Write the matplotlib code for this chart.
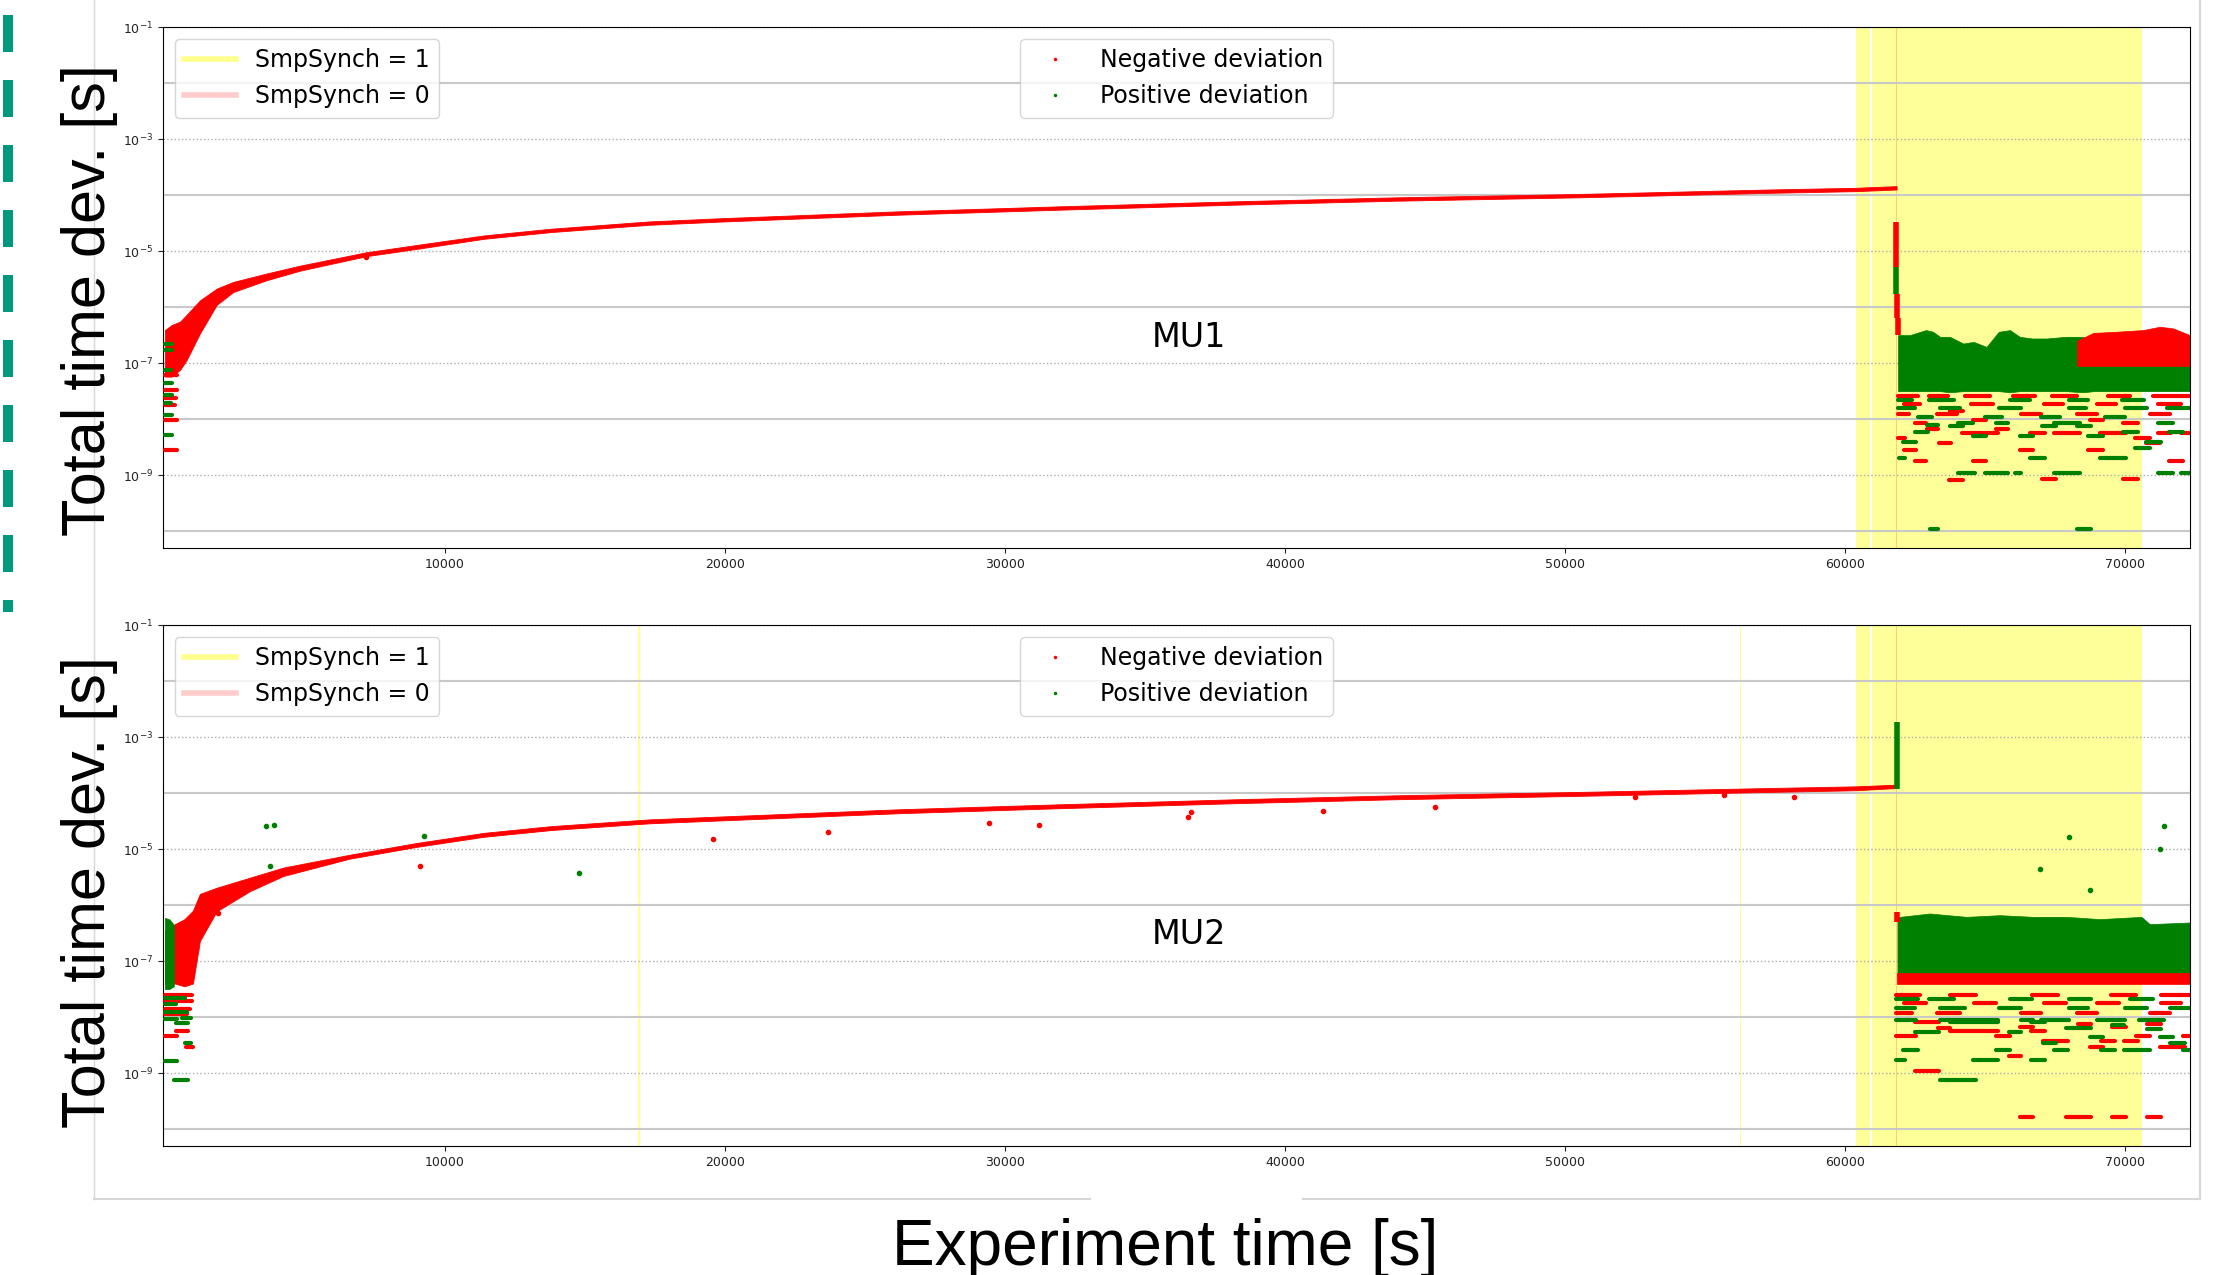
import numpy as np
import matplotlib.pyplot as plt
from matplotlib.lines import Line2D
from matplotlib.ticker import FixedLocator, NullFormatter, LogFormatterSciNotation

# all deviations below are log10 of the value in seconds, time in seconds

# ---------------- MU1 ----------------
mu1_curve_t = [0, 240, 540, 770, 1250, 1850, 2440, 3630, 4820, 7200, 9000, 11400, 13800,
               17300, 20000, 26200, 32000, 38300, 44000, 50500, 57300, 60400, 61850]
mu1_curve_hi = [-6.41, -6.32, -6.26, -6.14, -5.88, -5.67, -5.55, -5.40, -5.26, -5.02, -4.89, -4.72, -4.60,
                -4.47, -4.41, -4.29, -4.20, -4.11, -4.04, -3.98, -3.90, -3.87, -3.84]
mu1_curve_lo = [-7.24, -7.24, -7.12, -6.95, -6.47, -5.96, -5.73, -5.52, -5.35, -5.09, -4.96, -4.78, -4.66,
                -4.53, -4.47, -4.35, -4.26, -4.17, -4.10, -4.04, -3.96, -3.93, -3.90]

mu1_band_t = [61900, 62320, 62900, 63150, 63400, 63750, 64230, 64600, 65060, 65500, 65900, 66250,
              66700, 67200, 67900, 68500, 68900, 69600, 70300, 71500, 72330]
mu1_band_top = [-6.50, -6.50, -6.41, -6.44, -6.53, -6.53, -6.65, -6.62, -6.71, -6.44, -6.41, -6.53,
                -6.56, -6.56, -6.53, -6.53, -6.59, -6.65, -6.62, -6.62, -6.64]
mu1_band_bot = [-7.50, -7.50, -7.50, -7.50, -7.50, -7.52, -7.50, -7.50, -7.50, -7.50, -7.52, -7.50,
                -7.50, -7.50, -7.50, -7.52, -7.50, -7.50, -7.50, -7.50, -7.50]
mu1_redband_t = [68300, 68870, 69700, 70650, 71250, 71730, 72330]
mu1_redband_top = [-6.60, -6.46, -6.44, -6.41, -6.35, -6.38, -6.50]
mu1_redband_bot = [-7.05, -7.05, -7.05, -7.05, -7.05, -7.05, -7.05]

mu1_spike_t = [61820, 61840, 61860, 61900]
mu1_spike_top = [-4.48, -5.28, -5.76, -6.20]
mu1_spike_bot = [-5.28, -5.76, -6.20, -6.50]
mu1_spike_col = ['red', 'green', 'red', 'red']

mu1_red_out_t = [7200]
mu1_red_out_v = [-5.10]
mu1_green_out_t = []
mu1_green_out_v = []

mu1_red_seg = [
    (0, 420, -7.21), (0, 420, -7.48), (0, 400, -7.63), (0, 350, -7.75), (0, 420, -8.02), (0, 420, -8.55),
    (61900, 62600, -7.58), (63000, 63700, -7.58), (64300, 65200, -7.58), (66000, 66800, -7.58),
    (67400, 68300, -7.58), (69400, 70200, -7.58), (71000, 72322, -7.58),
    (62100, 62700, -7.73), (64500, 65300, -7.73), (67100, 67800, -7.73), (69000, 69700, -7.73),
    (71200, 72000, -7.73),
    (61900, 62300, -7.90), (63300, 64000, -7.90), (66300, 67000, -7.90), (68300, 69000, -7.90),
    (70900, 71600, -7.90),
    (61882, 62143, -8.33), (62119, 62560, -8.55), (62500, 62917, -8.74), (62500, 62917, -8.06),
    (62941, 63334, -8.17), (63370, 63810, -8.42), (63727, 64227, -9.08), (63750, 64227, -7.86),
    (64203, 64941, -8.24), (64584, 65060, -8.74), (64584, 65060, -8.02), (65000, 65477, -8.24),
    (65417, 65834, -8.18), (66250, 66727, -8.55), (66608, 67143, -8.24), (67060, 67560, -9.07),
    (67465, 68393, -8.24), (68691, 69227, -8.55), (68751, 69227, -8.02), (69132, 70060, -8.24),
    (69941, 70477, -8.06), (69941, 70477, -9.07), (70358, 70893, -8.33), (70774, 71250, -8.43),
    (71191, 71667, -8.24), (71584, 72084, -8.74), (72024, 72322, -8.24),
]
mu1_green_seg = [
    (0, 250, -6.65), (0, 250, -6.77), (0, 200, -7.12), (0, 250, -7.36), (0, 250, -7.57),
    (0, 200, -7.72), (0, 250, -7.93), (0, 250, -8.29),
    (61900, 62400, -7.65), (63000, 63900, -7.65), (65900, 66600, -7.65), (68000, 68700, -7.65),
    (69900, 70700, -7.65),
    (61900, 62500, -7.80), (63400, 64100, -7.80), (65500, 66300, -7.80), (68000, 68600, -7.80),
    (70000, 70800, -7.80), (71500, 72322, -7.80),
    (62600, 63100, -7.97), (65000, 65600, -7.97), (67000, 67700, -7.97), (69300, 70000, -7.97),
    (62084, 62560, -8.40), (61941, 62143, -8.69), (62500, 62977, -8.23), (62941, 63334, -8.11),
    (63036, 63334, -9.96), (63750, 64227, -8.12), (64060, 64643, -8.97), (64060, 64584, -8.06),
    (64584, 65060, -8.30), (65000, 65834, -8.97), (65417, 65834, -8.06), (66072, 66310, -8.97),
    (66250, 66727, -8.30), (66608, 67143, -8.69), (67060, 67560, -8.12), (67465, 68393, -8.97),
    (67465, 68393, -8.06), (68310, 68810, -8.12), (68310, 68810, -9.96), (68691, 69227, -8.30),
    (69132, 70060, -8.69), (69941, 70477, -8.23), (70358, 70893, -8.52), (70774, 71310, -8.40),
    (71191, 71727, -8.06), (71191, 71727, -8.97), (71584, 72084, -8.23), (72024, 72322, -8.97),
]
mu1_sync1 = [(60400, 60900), (60960, 70630)]
mu1_sync0 = [(61830, 61880)]

# ---------------- MU2 ----------------
mu2_curve_t = [0, 360, 700, 1000, 1250, 1850, 3040, 4230, 6610, 9000, 11400, 13800, 17300,
               26200, 32000, 38300, 44000, 50500, 57300, 60400, 61850]
mu2_curve_hi = [-6.45, -6.34, -6.25, -6.10, -5.80, -5.69, -5.51, -5.33, -5.10, -4.89, -4.71, -4.59, -4.47,
                -4.29, -4.20, -4.11, -4.04, -3.98, -3.91, -3.88, -3.85]
mu2_curve_lo = [-7.40, -7.40, -7.45, -7.40, -6.64, -6.11, -5.75, -5.48, -5.17, -4.96, -4.78, -4.66, -4.54,
                -4.36, -4.27, -4.18, -4.11, -4.05, -3.98, -3.95, -3.91]
mu2_startband_t = [0, 150, 320]
mu2_startband_top = [-6.23, -6.25, -6.35]
mu2_startband_bot = [-7.50, -7.50, -7.45]

mu2_band_t = [61880, 61964, 63035, 64345, 65536, 66726, 67917, 69107, 70595, 70893, 72330]
mu2_band_top = [-6.21, -6.21, -6.15, -6.21, -6.18, -6.21, -6.21, -6.25, -6.21, -6.34, -6.31]
mu2_band_bot = [-7.30, -7.30, -7.30, -7.30, -7.30, -7.30, -7.30, -7.30, -7.30, -7.30, -7.30]
mu2_redband_t = [61880, 72330]
mu2_redband_top = [-7.22, -7.22]
mu2_redband_bot = [-7.40, -7.40]

mu2_spike_t = [61870, 61880]
mu2_spike_top = [-2.74, -6.12]
mu2_spike_bot = [-3.92, -6.30]
mu2_spike_col = ['green', 'red']

mu2_red_out_t = [1900, 9110, 19560, 23680, 29430, 31210, 36530, 36640, 41360, 45360, 52500, 55680, 58200]
mu2_red_out_v = [-6.14, -5.31, -4.82, -4.70, -4.54, -4.57, -4.42, -4.34, -4.32, -4.24, -4.07, -4.04, -4.07]
mu2_green_out_t = [3600, 3900, 3770, 9240, 14800, 66960, 68010, 68750, 71250, 71390]
mu2_green_out_v = [-4.59, -4.57, -5.30, -4.76, -5.43, -5.36, -4.79, -5.73, -5.00, -4.59]

mu2_red_seg = [
    (0, 950, -7.60), (0, 950, -7.71), (0, 900, -7.85), (0, 800, -7.95), (0, 430, -8.33),
    (390, 820, -8.25), (750, 1000, -8.54),
    (61846, 62700, -7.60), (63750, 64700, -7.60), (66700, 67600, -7.60), (69500, 70400, -7.60),
    (71300, 72346, -7.60),
    (62100, 62900, -7.75), (64600, 65400, -7.75), (67100, 67900, -7.75), (69000, 69800, -7.75),
    (71300, 72000, -7.75),
    (61846, 62400, -7.92), (63300, 64100, -7.92), (66300, 67000, -7.92), (68300, 69000, -7.92),
    (70900, 71600, -7.92),
    (61846, 62560, -8.33), (62500, 63370, -8.96), (62500, 63370, -8.08), (63334, 63750, -8.19),
    (63750, 65477, -8.25), (65417, 65893, -8.33), (65869, 66310, -8.70), (66274, 66727, -8.18),
    (66667, 67143, -8.25), (66274, 66727, -9.79), (67084, 67977, -8.42), (67917, 68810, -9.79),
    (68336, 68810, -8.12), (68751, 69227, -8.54), (69167, 69643, -8.42), (69536, 70060, -8.18),
    (69536, 70060, -9.79), (69965, 70477, -8.42), (70417, 70893, -8.33), (70810, 71310, -8.12),
    (70810, 71310, -9.79), (71250, 72143, -8.54), (72084, 72346, -8.33),
]
mu2_green_seg = [
    (0, 700, -7.65), (0, 800, -7.90), (0, 400, -7.77), (0, 430, -8.04), (390, 820, -8.10),
    (710, 940, -8.46), (0, 430, -8.79), (340, 810, -9.13), (600, 940, -8.02),
    (61846, 62600, -7.67), (63000, 63900, -7.67), (65900, 66700, -7.67), (68000, 68800, -7.67),
    (70200, 71000, -7.67),
    (61846, 62500, -7.83), (63400, 64300, -7.83), (65500, 66300, -7.83), (68000, 68700, -7.83),
    (70000, 70800, -7.83), (71600, 72346, -7.83),
    (61846, 62560, -8.05), (63393, 65477, -8.05), (66310, 66727, -8.05), (67000, 68000, -8.05),
    (69000, 70000, -8.05), (70500, 71400, -8.05),
    (62084, 62619, -8.59), (61846, 62143, -8.77), (63393, 64679, -9.12), (62500, 63370, -8.27),
    (63750, 65477, -8.09), (64584, 65477, -8.77), (65417, 65893, -8.59), (65869, 66310, -8.27),
    (66667, 67143, -8.09), (66667, 67143, -8.77), (67084, 67560, -8.46), (67465, 67977, -8.59),
    (67917, 68810, -8.20), (68751, 69227, -8.36), (69167, 69643, -8.59), (69536, 69965, -8.14),
    (69965, 70893, -8.59), (70810, 71310, -8.21), (71250, 71727, -8.36), (71608, 72143, -8.46),
    (72084, 72346, -8.59),
]
mu2_sync1 = [(16900, 16960), (56250, 56300), (60400, 60900), (60960, 70630)]
mu2_sync0 = [(61840, 61880)]

xticks = [10000, 20000, 30000, 40000, 50000, 60000, 70000]


def p(v):
    return 10.0 ** np.asarray(v, dtype=float)


def draw_panel(ax, name, curve, startband, band, redband, spike, red_out, green_out,
               red_seg, green_seg, sync1, sync0):
    ax.set_yscale('log')
    ax.set_xlim(-70, 72330)
    ax.set_ylim(10 ** -10.3, 1e-1)
    ax.set_axisbelow(True)

    for a, b in sync1:
        ax.axvspan(a, b, color='yellow', alpha=0.4, lw=0, zorder=0.3)
    for a, b in sync0:
        ax.axvspan(a, b, color='red', alpha=0.2, lw=0, zorder=0.35)

    t, hi, lo = curve
    ax.fill_between(t, p(hi), p(lo), color='red', lw=0.6, zorder=3)
    if startband is not None:
        t, hi, lo = startband
        ax.fill_between(t, p(hi), p(lo), color='green', lw=0.5, zorder=3.2)
    t, hi, lo = band
    ax.fill_between(t, p(hi), p(lo), color='green', lw=0.5, zorder=2)
    t, hi, lo = redband
    ax.fill_between(t, p(hi), p(lo), facecolor='red', edgecolor='red', lw=0.5, zorder=2.1)

    for t0, t1, v in red_seg:
        ax.plot([t0, t1], [10.0 ** v] * 2, color='red', lw=3, solid_capstyle='round', zorder=4)
    for t0, t1, v in green_seg:
        ax.plot([t0, t1], [10.0 ** v] * 2, color='green', lw=3, solid_capstyle='round', zorder=4)

    t, top, bot, col = spike
    ax.vlines(t, p(bot), p(top), colors=col, lw=4, zorder=5)

    ax.plot(red_out[0], p(red_out[1]), '.', color='red', ms=6, zorder=5)
    ax.plot(green_out[0], p(green_out[1]), '.', color='green', ms=6, zorder=5)

    ax.yaxis.set_major_locator(FixedLocator([1e-1, 1e-3, 1e-5, 1e-7, 1e-9]))
    ax.yaxis.set_minor_locator(FixedLocator([1e-2, 1e-4, 1e-6, 1e-8, 1e-10]))
    ax.yaxis.set_major_formatter(LogFormatterSciNotation())
    ax.yaxis.set_minor_formatter(NullFormatter())
    ax.grid(which='major', axis='y', ls=':', color='#aaaaaa', lw=1)
    ax.grid(which='minor', axis='y', ls='-', color='#c8c8c8', lw=1.5)
    ax.tick_params(which='minor', length=0)
    ax.tick_params(which='major', labelsize=9, colors='#222222')
    ax.set_xticks(xticks)

    h1 = [Line2D([], [], color='yellow', alpha=0.45, lw=4),
          Line2D([], [], color='red', alpha=0.2, lw=4)]
    leg1 = ax.legend(h1, ['SmpSynch = 1', 'SmpSynch = 0'], loc='upper left', fontsize=17,
                     handlelength=2.2)
    ax.add_artist(leg1)
    h2 = [Line2D([], [], ls='', marker='.', ms=3, color='red'),
          Line2D([], [], ls='', marker='.', ms=3, color='green')]
    ax.legend(h2, ['Negative deviation', 'Positive deviation'], loc='upper center', fontsize=17,
              handlelength=2.2)

    ax.text(0.506, 0.405, name, transform=ax.transAxes, ha='center', va='center', fontsize=24)


fig = plt.figure(figsize=(22.2, 12.75), dpi=100)
ax1 = fig.add_axes([0.0734, 0.5702, 0.9131, 0.4086])
ax2 = fig.add_axes([0.0734, 0.1012, 0.9131, 0.4086])

draw_panel(ax1, 'MU1', (mu1_curve_t, mu1_curve_hi, mu1_curve_lo), None,
           (mu1_band_t, mu1_band_top, mu1_band_bot),
           (mu1_redband_t, mu1_redband_top, mu1_redband_bot),
           (mu1_spike_t, mu1_spike_top, mu1_spike_bot, mu1_spike_col),
           (mu1_red_out_t, mu1_red_out_v), (mu1_green_out_t, mu1_green_out_v),
           mu1_red_seg, mu1_green_seg, mu1_sync1, mu1_sync0)
draw_panel(ax2, 'MU2', (mu2_curve_t, mu2_curve_hi, mu2_curve_lo),
           (mu2_startband_t, mu2_startband_top, mu2_startband_bot),
           (mu2_band_t, mu2_band_top, mu2_band_bot),
           (mu2_redband_t, mu2_redband_top, mu2_redband_bot),
           (mu2_spike_t, mu2_spike_top, mu2_spike_bot, mu2_spike_col),
           (mu2_red_out_t, mu2_red_out_v), (mu2_green_out_t, mu2_green_out_v),
           mu2_red_seg, mu2_green_seg, mu2_sync1, mu2_sync0)

# slide frame lines and decoration
frame = '#d6d6d6'
fig.add_artist(Line2D([0.0423, 0.0423], [0.0596, 1.0], color=frame, lw=1, zorder=0))
fig.add_artist(Line2D([0.991, 0.991], [0.0596, 1.0], color=frame, lw=1.5, zorder=0))
fig.add_artist(Line2D([0.0423, 0.491], [0.0596, 0.0596], color=frame, lw=1.5, zorder=0))
fig.add_artist(Line2D([0.587, 0.991], [0.0596, 0.0596], color=frame, lw=1.5, zorder=0))
fig.add_artist(Line2D([0.0036, 0.0036], [0.988, 0.52], color='#00997f', lw=7.2,
                      dashes=[3.7, 2.8], solid_capstyle='butt'))

lab = dict(fontsize=44, family=['Liberation Sans', 'DejaVu Sans'])
fig.text(0.0405, 0.765, 'Total time dev. [s]', rotation=90, ha='center', va='center', **lab)
fig.text(0.0405, 0.300, 'Total time dev. [s]', rotation=90, ha='center', va='center', **lab)
fig.text(0.5248, 0.0078, 'Experiment time [s]', ha='center', va='baseline', fontsize=46,
         family=['Liberation Sans', 'DejaVu Sans'])

fig.savefig('out.png', dpi=100)
